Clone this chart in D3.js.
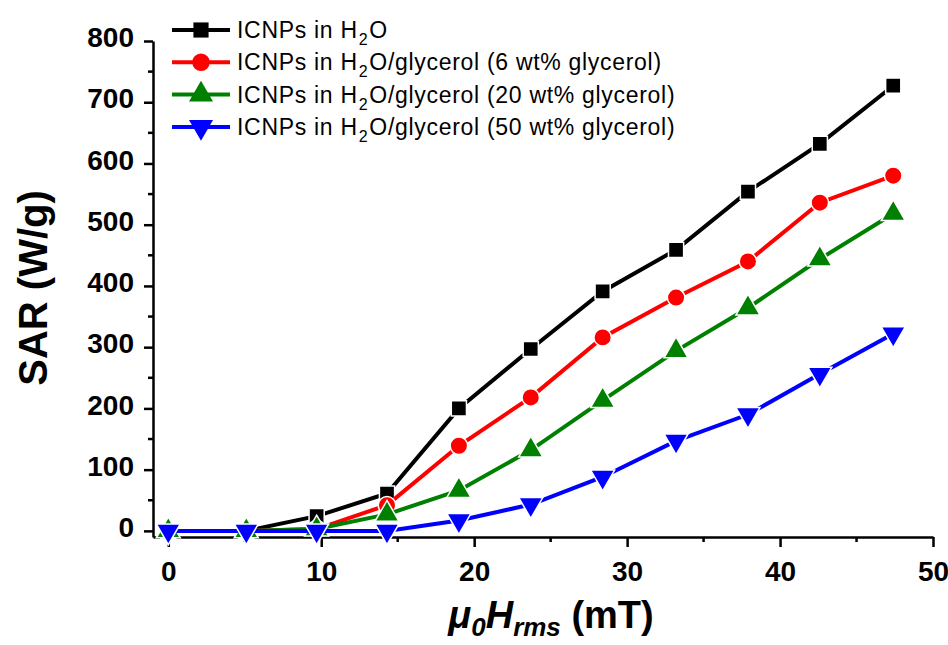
<!DOCTYPE html>
<html>
<head>
<meta charset="utf-8">
<script src="https://cdn.jsdelivr.net/npm/d3@7"></script>
<style>
	body { margin: 0; background: #fff; }
	svg { display: block; font-family: Arial, "Liberation Sans", sans-serif; }
</style>
</head>
<body>
<svg></svg>
<script>
// field values (mT)
const fieldValues = [0, 5.1, 9.7, 14.3, 19.0, 23.7, 28.4, 33.2, 37.9, 42.6, 47.4];

const sarWater = [0, 0, 24, 61, 200, 297, 391, 459, 554, 632, 727];
const sarGly6 = [0, 0, 3, 42, 139, 218, 316, 381, 440, 536, 580];
const sarGly20 = [0, 0, 3, 27, 66, 132, 213, 294, 364, 444, 518];
const sarGly50 = [0, 0, 0, 0, 17, 43, 88, 147, 190, 256, 322];

const seriesNames = [
	['ICNPs in H', '2', 'O'],
	['ICNPs in H', '2', 'O/glycerol (6 wt% glycerol)'],
	['ICNPs in H', '2', 'O/glycerol (20 wt% glycerol)'],
	['ICNPs in H', '2', 'O/glycerol (50 wt% glycerol)']
];
const seriesColors = ['#000000', '#ff0000', '#008000', '#0000ff'];
const seriesSymbols = [d3.symbolSquare, d3.symbolCircle, d3.symbolTriangle, 'triangleDown'];

const xTicks = [0, 10, 20, 30, 40, 50];
const yTicks = [0, 100, 200, 300, 400, 500, 600, 700, 800];

const svg = d3.select('svg')
	.attr('width', 948)
	.attr('height', 645);

const width = +svg.attr('width'),
	height = +svg.attr('height');

const xScale = d3.scaleLinear()
	.domain([-1, 50])
	.range([153, 933]);

const yScale = d3.scaleLinear()
	.domain([-10, 800])
	.range([537, 41]);

svg.append('rect')
	.attr('width', width)
	.attr('height', height)
	.attr('fill', '#fff');

// axes
const yAxis = d3.axisLeft(yScale)
	.tickValues(yTicks)
	.tickSize(9)
	.tickSizeOuter(0)
	.tickPadding(10);

const xAxis = d3.axisBottom(xScale)
	.tickValues(xTicks)
	.tickSize(10)
	.tickSizeOuter(0)
	.tickPadding(14);

const yAxisG = svg.append('g')
	.attr('transform', `translate(${xScale(-1)}, 0)`)
	.call(yAxis);

const xAxisG = svg.append('g')
	.attr('transform', `translate(0, ${yScale(-10)})`)
	.call(xAxis);

[yAxisG, xAxisG].forEach(g => {
	g.select('.domain').attr('stroke', '#000').attr('stroke-width', 2.5);
	g.selectAll('.tick line').attr('stroke', '#000').attr('stroke-width', 2.5);
	g.selectAll('.tick text')
		.attr('fill', '#000')
		.attr('font-size', 28)
		.attr('font-weight', 'bold')
		.attr('font-family', 'Arial, "Liberation Sans", sans-serif');
});
yAxisG.selectAll('.tick text').attr('dy', '0.2em');
xAxisG.selectAll('.tick text').attr('dy', '0.71em');

// minor ticks
const yMinor = yTicks.slice(0, -1).map(v => v + 50);
const xMinor = xTicks.slice(0, -1).map(v => v + 5);

yAxisG.selectAll('.minor')
	.data(yMinor)
	.enter().append('line')
	.attr('x1', 0).attr('x2', -5)
	.attr('y1', d => yScale(d)).attr('y2', d => yScale(d))
	.attr('stroke', '#000').attr('stroke-width', 2.5);

xAxisG.selectAll('.minor')
	.data(xMinor)
	.enter().append('line')
	.attr('y1', 0).attr('y2', 5)
	.attr('x1', d => xScale(d)).attr('x2', d => xScale(d))
	.attr('stroke', '#000').attr('stroke-width', 2.5);

// series
const allSeries = [sarWater, sarGly6, sarGly20, sarGly50];

const symbolPath = (type, size) => {
	if (type === 'triangleDown') {
		return d3.symbol().type(d3.symbolTriangle).size(size)();
	}
	return d3.symbol().type(type).size(size)();
};
const symbolSizes = [230, 240, 250, 250];

const line = d3.line()
	.x(d => xScale(d[0]))
	.y(d => yScale(d[1]));

allSeries.forEach((values, i) => {
	const pts = fieldValues.map((x, j) => [x, values[j]]);
	const g = svg.append('g');
	g.append('path')
		.attr('d', line(pts))
		.attr('fill', 'none')
		.attr('stroke', seriesColors[i])
		.attr('stroke-width', 4);
	g.selectAll('path.mk')
		.data(pts)
		.enter().append('path')
		.attr('class', 'mk')
		.attr('d', symbolPath(seriesSymbols[i], symbolSizes[i]))
		.attr('transform', d => `translate(${xScale(d[0])}, ${yScale(d[1])})` +
			(seriesSymbols[i] === 'triangleDown' ? ' rotate(180)' : ''))
		.attr('fill', seriesColors[i])
		.attr('stroke', '#fff')
		.attr('stroke-width', 1.5);
});

// legend
const legend = svg.append('g')
	.attr('transform', 'translate(172, 30)');

seriesNames.forEach((name, i) => {
	const row = legend.append('g')
		.attr('transform', `translate(0, ${i * 32.3})`);
	row.append('line')
		.attr('x1', 0).attr('x2', 58)
		.attr('stroke', seriesColors[i])
		.attr('stroke-width', 4);
	row.append('path')
		.attr('d', symbolPath(seriesSymbols[i], symbolSizes[i]))
		.attr('transform', `translate(29, 0)` + (seriesSymbols[i] === 'triangleDown' ? ' rotate(180)' : ''))
		.attr('fill', seriesColors[i]);
	const t = row.append('text')
		.attr('x', 65)
		.attr('y', 8)
		.attr('font-size', 23)
		.attr('letter-spacing', 0.7)
		.attr('fill', '#000');
	t.append('tspan').text(name[0]);
	t.append('tspan').attr('font-size', 16).attr('dx', 1).attr('dy', 7).text(name[1]);
	t.append('tspan').attr('dx', 1).attr('dy', -7).text(name[2]);
});

// axis titles
svg.append('text')
	.attr('transform', 'translate(47, 288) rotate(-90)')
	.attr('text-anchor', 'middle')
	.attr('font-size', 40)
	.attr('font-weight', 'bold')
	.attr('fill', '#000')
	.text('SAR (W/g)');

const xTitle = svg.append('text')
	.attr('x', 551)
	.attr('y', 628)
	.attr('text-anchor', 'middle')
	.attr('font-size', 38)
	.attr('font-weight', 'bold')
	.attr('fill', '#000');
xTitle.append('tspan').attr('font-style', 'italic').text('μ');
xTitle.append('tspan').attr('font-style', 'italic').attr('font-size', 26).attr('dy', 8).text('0');
xTitle.append('tspan').attr('font-style', 'italic').attr('dy', -8).text('H');
xTitle.append('tspan').attr('font-style', 'italic').attr('font-size', 26).attr('dy', 8).text('rms');
xTitle.append('tspan').attr('dy', -8).text(' (mT)');
</script>
</body>
</html>
